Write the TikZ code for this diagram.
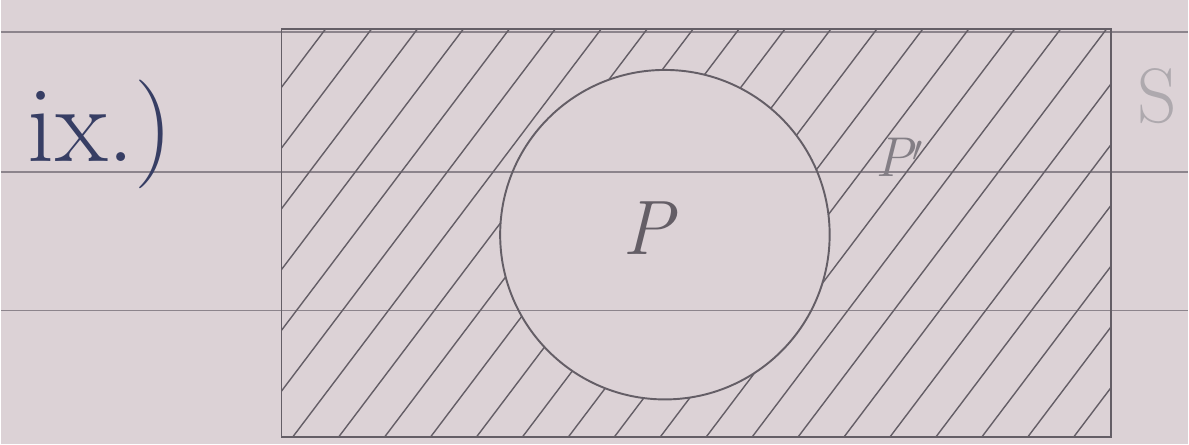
\documentclass[tikz,border=0pt]{standalone}
\usepackage{tikz}
\usetikzlibrary{positioning}
\definecolor{paper}{RGB}{220,210,214}
\definecolor{ruling}{RGB}{140,132,140}
\definecolor{pencil}{RGB}{100,94,102}
\definecolor{ink}{RGB}{55,62,100}

\begin{document}
\begin{tikzpicture}[x=0.02cm, y=-0.02cm]
  % paper with its ruled lines
  \fill[paper] (0,0) rectangle (1189,445);
  \foreach \y in {32,172,311}
    \draw[ruling, line width=0.9pt] (0,\y) -- (1189,\y);
  % shaded part P'
  \begin{scope}[even odd rule]
    \clip (281,29) rectangle (1112,438) (665,235) circle [radius=165];
    \foreach \c in {-30,16,...,1112}
      \draw[pencil, line width=0.8pt] (\c,438) -- ++(310,-410);
  \end{scope}
  \node (setS) [draw=pencil, line width=1.1pt, minimum width=16.62cm,
        minimum height=8.18cm, inner sep=0pt] at (696.5,233.5) {};
  \node (setP) [draw=pencil, line width=1.1pt, circle, minimum size=6.6cm,
        inner sep=0pt] at (665,235) {};
  \node (num) [ink] at (100,135) {\fontsize{62}{62}\selectfont ix.)};
  \node (labS) [ruling!70] at (1158,96) {\fontsize{44}{44}\selectfont S};
  \node (labP) [pencil] at (648,228) {\fontsize{44}{44}\selectfont\itshape P};
  \node (labPc) [pencil!80] at (900,158) {\fontsize{32}{32}\selectfont\itshape P$'$};
\end{tikzpicture}
\end{document}
